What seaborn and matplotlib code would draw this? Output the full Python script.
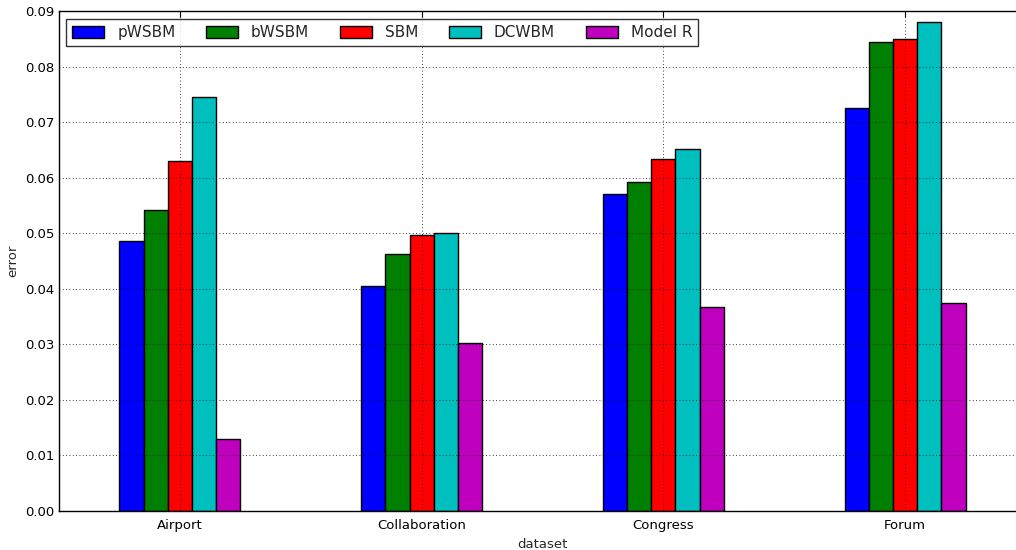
import matplotlib
matplotlib.use("Agg")
import matplotlib.pyplot as plt
import seaborn as sns
import pandas as pd
import numpy as np

datasets = ["Airport", "Collaboration", "Congress", "Forum"]
models = ["pWSBM", "bWSBM", "SBM", "DCWBM", "Model R"]
pwsbm = [0.0486, 0.0405, 0.0570, 0.0725]
bwsbm = [0.0542, 0.0462, 0.0592, 0.0844]
sbm = [0.0630, 0.0496, 0.0633, 0.0850]
dcwbm = [0.0745, 0.0500, 0.0652, 0.0881]
model_r = [0.0130, 0.0302, 0.0368, 0.0375]
colors = ["#0000ff", "#008000", "#ff0000", "#00bfbf", "#bf00bf"]

series = [pwsbm, bwsbm, sbm, dcwbm, model_r]
rows = []
for m, vals in zip(models, series):
    for d, v in zip(datasets, vals):
        rows.append({"dataset": d, "model": m, "error": v})
df = pd.DataFrame(rows)

sns.set_style("white")
plt.rcParams['font.family'] = ['DejaVu Sans']

fig = plt.figure(figsize=(10.16, 5.5), dpi=100)
ax = fig.add_axes([59/1016, 1 - 511/550, (1026 - 59)/1016, (511 - 11)/550])

sns.barplot(data=df, x="dataset", y="error", hue="model", order=datasets,
            hue_order=models, palette=colors, width=0.5, edgecolor="black",
            linewidth=1, saturation=1, ax=ax, legend=True)

ax.set_xlim(-0.5, 3.5)
ax.set_ylim(0, 0.09)
ax.set_yticks(np.arange(0, 0.0901, 0.01))
ax.set_yticklabels([f"{v:.2f}" for v in np.arange(0, 0.0901, 0.01)])
ax.tick_params(axis="both", direction="in", labelsize=9.5, length=4, width=0.8,
               top=True, right=True, colors="black")
ax.tick_params(axis="x", pad=6)
ax.grid(True, color="black", linestyle=(0, (1, 3)), linewidth=0.6)
ax.set_axisbelow(False)
for s in ax.spines.values():
    s.set_color("black")
    s.set_linewidth(1)
ax.set_xlabel("dataset", fontsize=9.5)
ax.set_ylabel("error", fontsize=9.5)

handles, labels = ax.get_legend_handles_labels()
leg = ax.legend(handles, labels, loc="upper left", ncol=5, fontsize=11,
                frameon=True, fancybox=False, edgecolor="black",
                bbox_to_anchor=(0.0072, 0.984), borderaxespad=0,
                columnspacing=2.0, handlelength=2.1, handleheight=0.8,
                handletextpad=0.85, borderpad=0.4)
leg.get_frame().set_linewidth(1)

fig.savefig("out.png", dpi=100)
